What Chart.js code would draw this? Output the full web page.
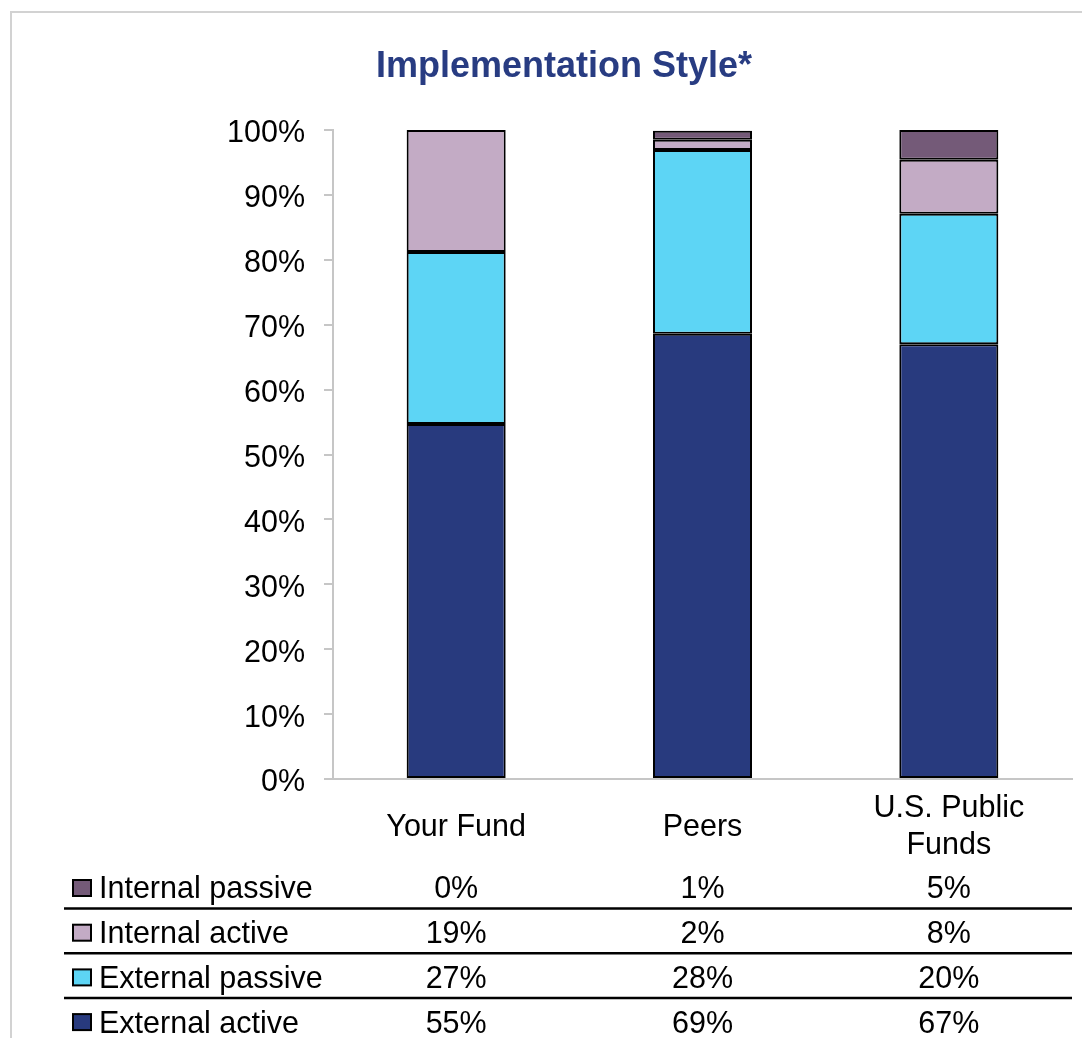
<!DOCTYPE html>
<html>
<head>
<meta charset="utf-8">
<script src="https://cdn.jsdelivr.net/npm/chart.js@4.4.1/dist/chart.umd.min.js"></script>
<style>
  html, body { margin: 0; padding: 0; background: #fff; }
  #wrap { position: relative; width: 1082px; height: 1038px; }
  #frame {
    position: absolute; left: 10px; top: 11px; right: -5px; bottom: -5px;
    border-left: 2px solid #d2d2d2; border-top: 2px solid #d2d2d2;
    pointer-events: none;
  }
</style>
</head>
<body>
<div id="wrap">
  <canvas id="styleChart" width="1082" height="1038"></canvas>
  <div id="frame"></div>
</div>
<script>
// categories and series (percent of total)
const categories = ['Your Fund', 'Peers', ['U.S. Public', 'Funds']];
const externalActive = [54.7, 68.6, 67.0];
const externalPassive = [26.5, 28.3, 20.1];
const internalActive = [18.8, 1.6, 8.3];
const internalPassive = [0, 1.4, 4.6];

const seriesNames = ['External active', 'External passive', 'Internal active', 'Internal passive'];
const seriesColors = ['#283a7e', '#5dd5f5', '#c3abc5', '#745a78'];
const yTicks = [0, 10, 20, 30, 40, 50, 60, 70, 80, 90, 100];

const FONT = "'Liberation Sans', Arial, sans-serif";
const TXT = 30.5;
const PAD_LEFT = 56; // shifts the title centre

const seriesValues = [externalActive, externalPassive, internalActive, internalPassive];

// table underneath the bars, top row = top of the stack
const dataTable = {
  id: 'dataTable',
  afterDraw(chart) {
    const ctx = chart.ctx;
    const x = chart.scales.x;
    const area = chart.chartArea;
    const firstRow = area.bottom + 111;
    const rowH = 44.7;
    ctx.save();
    ctx.font = TXT + 'px ' + FONT;
    ctx.textBaseline = 'middle';
    for (let r = 0; r < 4; r++) {
      const s = 3 - r;
      const cy = firstRow + r * rowH;
      // swatch
      ctx.fillStyle = seriesColors[s];
      ctx.fillRect(73, cy - 10, 18, 16);
      ctx.strokeStyle = '#000';
      ctx.lineWidth = 2;
      ctx.strokeRect(73, cy - 10, 18, 16);
      // row label
      ctx.fillStyle = '#000';
      ctx.textAlign = 'left';
      ctx.fillText(seriesNames[s], 99, cy);
      // values
      ctx.textAlign = 'center';
      seriesValues[s].forEach((v, i) => {
        ctx.fillText(Math.round(v) + '%', x.getPixelForValue(i), cy);
      });
      // separator
      if (r < 3) {
        ctx.beginPath();
        ctx.moveTo(64, cy + 18.5);
        ctx.lineTo(area.right, cy + 18.5);
        ctx.lineWidth = 2.5;
        ctx.stroke();
      }
    }
    ctx.restore();
  }
};

const datasets = seriesNames.map((name, i) => ({
  label: name,
  data: seriesValues[i],
  backgroundColor: seriesColors[i],
  borderColor: '#000',
  borderWidth: 2,
  borderSkipped: false,
  categoryPercentage: 1,
  barPercentage: 0.402
}));

new Chart(document.getElementById('styleChart').getContext('2d'), {
  type: 'bar',
  data: { labels: categories, datasets: datasets },
  plugins: [dataTable],
  options: {
    responsive: false,
    animation: false,
    layout: { padding: { left: PAD_LEFT, top: 0, right: 10, bottom: 0 } },
    plugins: {
      legend: { display: false },
      tooltip: { enabled: false },
      title: {
        display: true,
        text: 'Implementation Style*',
        color: '#283c82',
        font: { family: FONT, size: 36, weight: 'bold', lineHeight: 1.2 },
        padding: { top: 45, bottom: 41.8 }
      }
    },
    scales: {
      x: {
        stacked: true,
        grid: { display: true, drawOnChartArea: false, drawTicks: false },
        border: { display: true, color: '#c6c6c6', width: 2 },
        ticks: {
          color: '#000',
          font: { family: FONT, size: TXT, lineHeight: 1.2 },
          padding: 30,
          crossAlign: 'center',
          maxRotation: 0,
          autoSkip: false
        },
        afterFit(scale) { scale.height = 259; }
      },
      y: {
        stacked: true,
        min: 0,
        max: 100,
        afterBuildTicks(scale) { scale.ticks = yTicks.map(v => ({ value: v })); },
        grid: { display: true, drawOnChartArea: false, drawTicks: true, tickLength: 9, color: '#c6c6c6', lineWidth: 2 },
        border: { display: true, color: '#c6c6c6', width: 2 },
        ticks: {
          color: '#000',
          font: { family: FONT, size: TXT },
          padding: 19,
          labelOffset: 4,
          callback: v => v + '%'
        },
        afterFit(scale) { scale.width = 333 - PAD_LEFT; }
      }
    }
  }
});
</script>
</body>
</html>
